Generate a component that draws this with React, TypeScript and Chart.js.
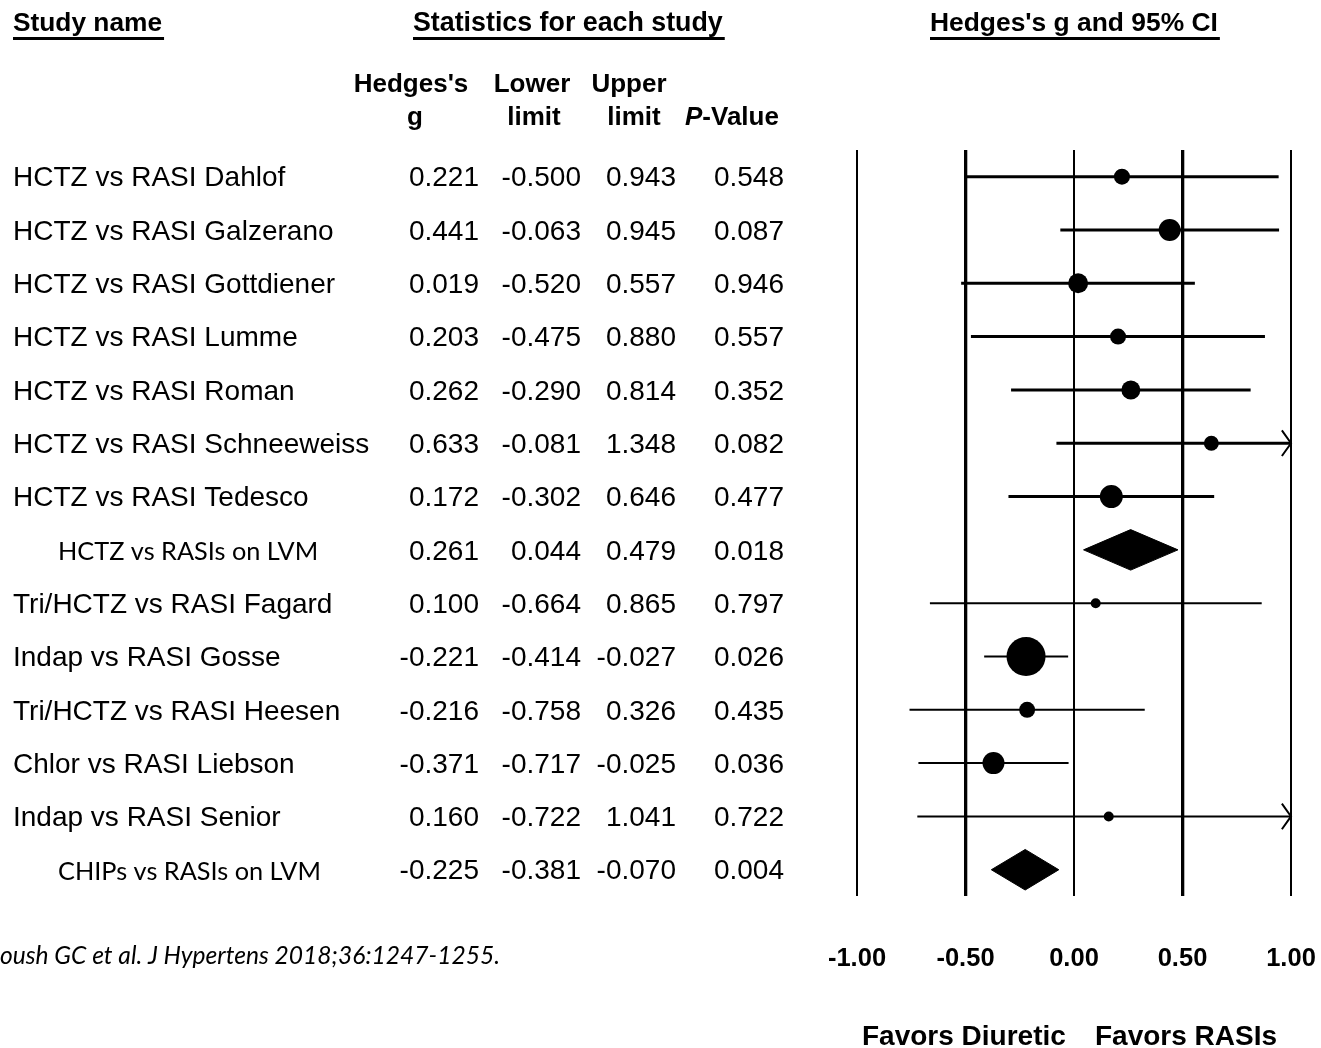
import React, { useEffect, useRef } from "react";
import { Chart, registerables } from "chart.js";

Chart.register(...registerables);

// ---------------- DATA ----------------
const studyNames = [
  "HCTZ vs RASI Dahlof",
  "HCTZ vs RASI Galzerano",
  "HCTZ vs RASI Gottdiener",
  "HCTZ vs RASI Lumme",
  "HCTZ vs RASI Roman",
  "HCTZ vs RASI Schneeweiss",
  "HCTZ vs RASI Tedesco",
  "HCTZ vs RASIs on LVM",
  "Tri/HCTZ vs RASI Fagard",
  "Indap vs RASI Gosse",
  "Tri/HCTZ vs RASI Heesen",
  "Chlor vs RASI Liebson",
  "Indap vs RASI Senior",
  "CHIPs vs RASIs on LVM",
];
const hedgesG = [0.221, 0.441, 0.019, 0.203, 0.262, 0.633, 0.172, 0.261, 0.1, -0.221, -0.216, -0.371, 0.16, -0.225];
const lowerLimits = [-0.5, -0.063, -0.52, -0.475, -0.29, -0.081, -0.302, 0.044, -0.664, -0.414, -0.758, -0.717, -0.722, -0.381];
const upperLimits = [0.943, 0.945, 0.557, 0.88, 0.814, 1.348, 0.646, 0.479, 0.865, -0.027, 0.326, -0.025, 1.041, -0.07];
const pValues = [0.548, 0.087, 0.946, 0.557, 0.352, 0.082, 0.477, 0.018, 0.797, 0.026, 0.435, 0.036, 0.722, 0.004];
const isSummary = [false, false, false, false, false, false, false, true, false, false, false, false, false, true];
const xTickValues = [-1, -0.5, 0, 0.5, 1];
const xTickLabels = ["-1.00", "-0.50", "0.00", "0.50", "1.00"];
const columnTitles = ["Study name", "Statistics for each study", "Hedges's g and 95% CI"];
const axisNotes = ["Favors Diuretic", "Favors RASIs"];
const citation = "Roush GC et al. J Hypertens 2018;36:1247-1255.";

// ---------------- STYLE ----------------
const W = 1321;
const H = 1048;
const X_MIN = -1;
const X_MAX = 1;
const MARKER_RADIUS = [8, 11, 10, 8, 9.5, 7.5, 11.5, 0, 5, 19.5, 8, 11, 5, 0];
const DIAMOND_HALF = 0.38; // rows
const ARROW_DX = 0.042;
const ARROW_DY = 0.24;
const TEXT_DY = 2;
const ARIAL = '"Liberation Sans", Arial, sans-serif';
const CALIBRI = 'Lato, "Open Sans", sans-serif';

function buildDatasets() {
  const ds: any[] = [];
  const pts: any[] = [];
  const radii: number[] = [];
  studyNames.forEach((_, i) => {
    if (!isSummary[i]) {
      pts.push({ x: hedgesG[i], y: i + 1 });
      radii.push(MARKER_RADIUS[i]);
    }
  });
  ds.push({
    label: "effects",
    data: pts,
    showLine: false,
    pointRadius: radii,
    pointHoverRadius: radii,
    pointBackgroundColor: "#000",
    pointBorderColor: "#000",
    pointBorderWidth: 0,
    order: 0,
  });
  const firstSummary = isSummary.indexOf(true);
  studyNames.forEach((_, i) => {
    const y = i + 1;
    if (isSummary[i]) {
      ds.push({
        label: "summary" + i,
        data: [
          { x: lowerLimits[i], y },
          { x: hedgesG[i], y: y - DIAMOND_HALF },
          { x: upperLimits[i], y },
          { x: hedgesG[i], y: y + DIAMOND_HALF },
          { x: lowerLimits[i], y },
        ],
        fill: "shape",
        backgroundColor: "#000",
        borderColor: "#000",
        borderWidth: 1,
        pointRadius: 0,
        tension: 0,
        order: 1,
      });
    } else {
      const lw = i < firstSummary ? 3 : 2;
      ds.push({
        label: "ci" + i,
        data: [
          { x: lowerLimits[i], y },
          { x: Math.min(upperLimits[i], X_MAX), y },
        ],
        borderColor: "#000",
        borderWidth: lw,
        pointRadius: 0,
        fill: false,
        order: 1,
      });
      if (upperLimits[i] > X_MAX) {
        ds.push({
          label: "arrow" + i,
          data: [
            { x: X_MAX - ARROW_DX, y: y - ARROW_DY },
            { x: X_MAX, y },
            { x: X_MAX - ARROW_DX, y: y + ARROW_DY },
          ],
          borderColor: "#000",
          borderWidth: 2,
          pointRadius: 0,
          fill: false,
          order: 1,
          clip: 6,
        });
      }
    }
  });
  return ds;
}

const textPlugin = {
  id: "forestText",
  afterDraw(chart: any) {
    const ctx: CanvasRenderingContext2D = chart.ctx;
    const yScale = chart.scales.y;
    ctx.save();
    ctx.fillStyle = "#000";

    // underlined column titles
    ctx.textBaseline = "alphabetic";
    ctx.textAlign = "left";
    const titleX = [13, 413, 930];
    const titleSize = [26.3, 26.8, 26.4];
    columnTitles.forEach((t, k) => {
      ctx.font = `bold ${titleSize[k]}px ${ARIAL}`;
      ctx.fillText(t, titleX[k], 31);
      const w = ctx.measureText(t).width;
      ctx.fillRect(titleX[k], 37, w + 2, 3);
    });

    // column headers
    ctx.font = `bold 26px ${ARIAL}`;
    ctx.textBaseline = "middle";
    ctx.textAlign = "center";
    ctx.fillText("Hedges's", 411, 83 + TEXT_DY);
    ctx.fillText("g", 415, 116 + TEXT_DY);
    ctx.fillText("Lower", 532, 83 + TEXT_DY);
    ctx.fillText("limit", 534, 116 + TEXT_DY);
    ctx.fillText("Upper", 629, 83 + TEXT_DY);
    ctx.fillText("limit", 634, 116 + TEXT_DY);
    ctx.textAlign = "left";
    ctx.font = `italic bold 26px ${ARIAL}`;
    ctx.fillText("P", 685, 116 + TEXT_DY);
    const pw = ctx.measureText("P").width;
    ctx.font = `bold 26px ${ARIAL}`;
    ctx.fillText("-Value", 685 + pw, 116 + TEXT_DY);

    // rows
    const colRight = [479, 581, 676, 784];
    studyNames.forEach((name, i) => {
      const y = yScale.getPixelForValue(i + 1) + TEXT_DY;
      ctx.textAlign = "left";
      if (isSummary[i]) {
        ctx.font = `25.3px ${CALIBRI}`;
        ctx.fillText(name, 58, y);
      } else {
        ctx.font = `28px ${ARIAL}`;
        ctx.fillText(name, 13, y);
      }
      ctx.font = `28px ${ARIAL}`;
      ctx.textAlign = "right";
      const vals = [hedgesG[i], lowerLimits[i], upperLimits[i], pValues[i]];
      vals.forEach((v, k) => ctx.fillText(v.toFixed(3), colRight[k], y));
    });

    // citation
    ctx.font = `italic 24.6px ${CALIBRI}`;
    ctx.textAlign = "right";
    ctx.fillText(citation, 500, 956);

    // favors notes
    ctx.font = `bold 28px ${ARIAL}`;
    ctx.textAlign = "left";
    ctx.fillText(axisNotes[0], 862, 1037);
    ctx.fillText(axisNotes[1], 1095, 1037);
    ctx.restore();
  },
};

export default function App() {
  const ref = useRef<HTMLCanvasElement>(null);
  useEffect(() => {
    const chart = new Chart(ref.current as HTMLCanvasElement, {
      type: "line",
      data: { datasets: buildDatasets() },
      options: {
        animation: false,
        responsive: false,
        devicePixelRatio: 1,
        layout: { autoPadding: false, padding: { left: 857, right: 30, top: 150, bottom: 74 } },
        plugins: { legend: { display: false }, tooltip: { enabled: false } },
        events: [],
        scales: {
          x: {
            type: "linear",
            min: X_MIN,
            max: X_MAX,
            afterBuildTicks: (scale: any) => {
              scale.ticks = xTickValues.map((v) => ({ value: v }));
            },
            border: { display: false },
            grid: {
              color: "#000",
              lineWidth: (c: any) => (Math.abs(Math.abs(c.tick?.value ?? 0) - 0.5) < 1e-9 ? 3.3 : 2),
              drawTicks: true,
              tickLength: 47,
              tickColor: "rgba(0,0,0,0)",
            },
            ticks: {
              maxRotation: 0,
              autoSkip: false,
              padding: 0,
              color: "#000",
              font: { family: ARIAL, size: 25.5, weight: "bold" },
              callback: (v: any) => {
                const k = xTickValues.indexOf(Number(v));
                return k >= 0 ? xTickLabels[k] : "";
              },
            },
          },
          y: {
            type: "linear",
            display: false,
            min: 0.5,
            max: studyNames.length + 0.5,
            reverse: true,
          },
        },
      } as any,
      plugins: [textPlugin],
    });
    return () => chart.destroy();
  }, []);
  return (
    <div style={{ position: "absolute", left: 0, top: 0, width: W, height: H, background: "#fff" }}>
      <canvas ref={ref} width={W} height={H} style={{ display: "block", width: W, height: H }} />
    </div>
  );
}
